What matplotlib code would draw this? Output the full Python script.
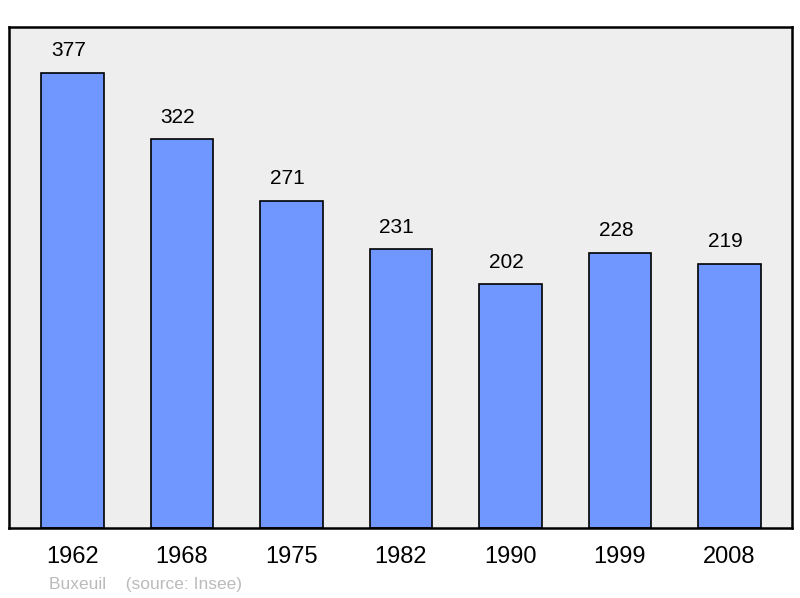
import numpy as np
import matplotlib
matplotlib.use('Agg')
import matplotlib.pyplot as plt

plt.rcParams['font.family'] = ['Liberation Sans', 'DejaVu Sans']

years = ['1962', '1968', '1975', '1982', '1990', '1999', '2008']
population = [377, 322, 271, 231, 202, 228, 219]

fig = plt.figure(figsize=(8, 5.98), dpi=100)
ax = fig.add_axes([9/800, 70/598, 783/800, 501/598])
ax.set_facecolor('#eeeeee')

x = np.arange(len(years))
ax.bar(x, population, width=0.575, color='#7097ff', edgecolor='black', linewidth=1.2, zorder=2)

for xi, v in zip(x, population):
    ax.annotate(str(v), (xi, v), xytext=(-3, 9), textcoords='offset points',
                ha='center', va='bottom', fontsize=15)

ax.set_xlim(-0.58, 6.571)
ax.set_ylim(0, 415)
ax.set_yticks([])
ax.set_xticks(x)
ax.set_xticklabels(years, fontsize=17)
ax.tick_params(axis='x', length=0, pad=13)
for s in ax.spines.values():
    s.set_linewidth(1.8)
    s.set_color('black')

fig.text(49/800, 1 - 584/598, 'Buxeuil    (source: Insee)', fontsize=12.5, color='#bbbbbb', va='center')

plt.savefig('out.png', dpi=100)
